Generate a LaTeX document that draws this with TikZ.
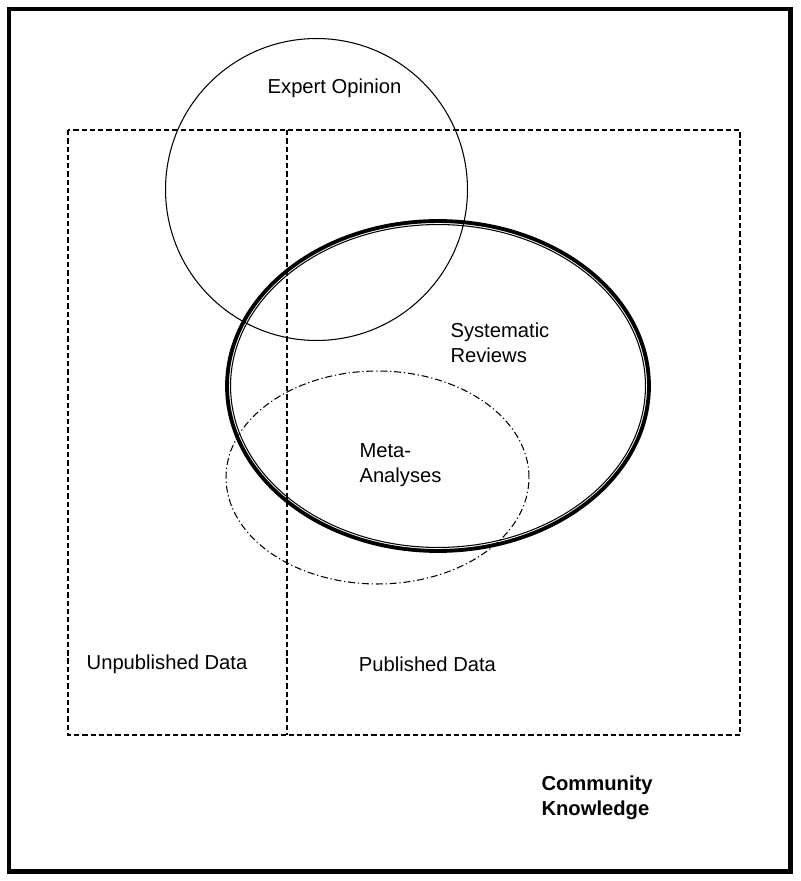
\documentclass[tikz,border=0pt]{standalone}
\usepackage{fontspec}
\setmainfont{Liberation Sans}
\usepackage{tikz}
\usetikzlibrary{positioning}

\begin{document}
\begin{tikzpicture}[x=0.02cm,y=-0.02cm,line width=0.6pt,
		every node/.style={font=\fontsize{11.5}{14.2}\selectfont,inner sep=0pt},
		datarect/.style={dash pattern=on 3pt off 1.7pt},
		metaline/.style={dash pattern=on 4pt off 1.6pt on 0.7pt off 1.6pt}]
				\useasboundingbox (0,0) rectangle (800,881);
				% frame
				\draw[line width=2.8pt] (9,9) rectangle (790.5,871.5);
				% data areas
				\draw[datarect] (68,130) rectangle (740,735);
				\draw[datarect] (287,130) -- (287,735);
				% sets
				\draw (316.5,189.5) circle [radius=3.02cm];
				\draw[line width=2.2pt] (438,386) ellipse [x radius=4.22cm, y radius=3.3cm];
				\draw (438,386) ellipse [x radius=4.15cm, y radius=3.23cm];
				\draw[metaline] (377.5,477.5) ellipse [x radius=3.03cm, y radius=2.13cm];
				% labels
				\node (expert) at (334.5,88) {Expert Opinion};
				\node[anchor=west,align=left] (sysrev) at (450,342.5) {Systematic\\Reviews};
				\node[anchor=west,align=left] (meta) at (359,465) {Meta-\\Analyses};
				\node (unpub) at (167,664) {Unpublished Data};
				\node (pub) at (427.5,664) {Published Data};
				\node[anchor=west,align=left,font=\fontsize{11.5}{14.2}\selectfont\bfseries] (community) at (541,798) {Community\\Knowledge};
			\end{tikzpicture}
\end{document}
